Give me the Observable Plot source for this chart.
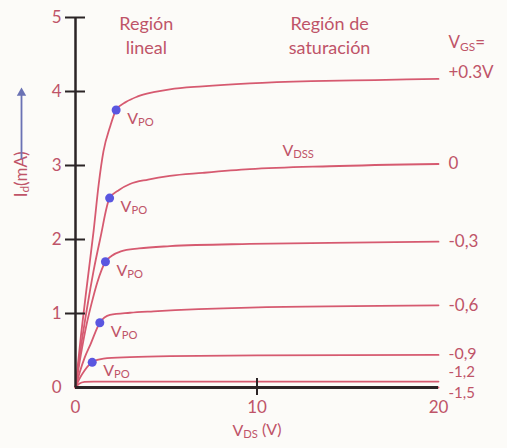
<!DOCTYPE html>
<html>
<head>
<meta charset="utf-8">
<script src="https://cdn.jsdelivr.net/npm/d3@7"></script>
<script src="https://cdn.jsdelivr.net/npm/@observablehq/plot@0.6"></script>
<style>
  html, body { margin: 0; padding: 0; background: #fcfbf8; }
</style>
</head>
<body>
<div id="chart"></div>
<script>
// ---------- DATA ----------
const xTicks = [0, 10, 20];
const yTicks = [0, 1, 2, 3, 4, 5];

const vgsLabels = ["+0.3V", "0", "-0,3", "-0,6", "-0,9", "-1,2", "-1,5"];

const vds_p03 = [0, 0.3, 0.64, 1.0, 1.28, 1.54, 1.9, 2.24, 2.8, 3.4, 4.3, 5.2, 7.0, 9.6, 13, 16.5, 20];
const id_p03  = [0, 0.7, 1.40, 2.12, 2.75, 3.19, 3.52, 3.75, 3.86, 3.93, 3.99, 4.03, 4.07, 4.11, 4.14, 4.155, 4.17];

const vds_0 = [0, 0.3, 0.6, 0.82, 0.99, 1.37, 1.88, 2.4, 3.0, 4.0, 5.2, 7.0, 9.6, 14, 20];
const id_0  = [0, 0.55, 1.02, 1.34, 1.57, 2.02, 2.56, 2.67, 2.75, 2.81, 2.86, 2.90, 2.95, 2.99, 3.02];

const vds_m03 = [0, 0.3, 0.6, 0.9, 1.2, 1.65, 2.0, 2.5, 3.5, 5.2, 9.6, 14, 20];
const id_m03  = [0, 0.45, 0.84, 1.15, 1.42, 1.70, 1.78, 1.84, 1.88, 1.91, 1.94, 1.955, 1.97];

const vds_m06 = [0, 0.25, 0.5, 0.82, 1.34, 1.9, 3.0, 4.3, 9.6, 20];
const id_m06  = [0, 0.22, 0.40, 0.58, 0.875, 0.98, 1.01, 1.03, 1.08, 1.11];

const vds_m09 = [0, 0.2, 0.5, 0.92, 1.54, 3.0, 5.2, 10, 20];
const id_m09  = [0, 0.11, 0.23, 0.34, 0.39, 0.41, 0.425, 0.435, 0.44];

const vds_m12 = [0, 0.2, 0.5, 1.0, 5, 10, 20];
const id_m12  = [0, 0.05, 0.075, 0.08, 0.08, 0.08, 0.08];

const vds_m15 = [0, 20];
const id_m15  = [0, 0];

// pinch-off (VPO) points
const vpoVds = [2.24, 1.88, 1.65, 1.34, 0.92];
const vpoId  = [3.75, 2.56, 1.70, 0.875, 0.34];

// ---------- BUILD ----------
const curveVds = [vds_p03, vds_0, vds_m03, vds_m06, vds_m09, vds_m12, vds_m15];
const curveId  = [id_p03, id_0, id_m03, id_m06, id_m09, id_m12, id_m15];
const lines = curveVds.flatMap((xs, k) => xs.map((v, i) => ({vds: v, id: curveId[k][i], vgs: vgsLabels[k]})));
const ends = curveVds.map((xs, k) => ({vds: xs[xs.length - 1], id: curveId[k][curveId[k].length - 1], label: vgsLabels[k]}));
const vpo = vpoVds.map((v, i) => ({vds: v, id: vpoId[i]}));

const curveColor = "#d65a70";
const textColor = "#bf5468";
const axisColor = "#2b2426";
const font = "Lato, 'Open Sans', sans-serif";
// label vertical nudges (in mA) so the right-hand labels sit like the original
const labelNudge = [0.08, 0, 0, 0, 0.02, 0.13, -0.075];
const labelSize = [17, 17, 17, 17, 16, 15, 15];

const plot = Plot.plot({
  width: 507,
  height: 448,
  marginLeft: 75,
  marginRight: 69,
  marginTop: 17,
  marginBottom: 61,
  style: {background: "#fcfbf8", color: textColor, fontFamily: font, fontSize: "17px"},
  x: {domain: [0, 20], axis: null},
  y: {domain: [0, 5], axis: null},
  marks: [
    // curves
    Plot.line(lines, {x: "vds", y: "id", z: "vgs", curve: "monotone-x", stroke: curveColor, strokeWidth: 1.8}),
    // axis lines
    Plot.ruleX([0], {y1: 0, y2: 5, stroke: axisColor, strokeWidth: 2.5}),
    Plot.ruleY([0], {x1: 0, x2: 20, stroke: axisColor, strokeWidth: 3}),
    // y ticks crossing the axis
    Plot.ruleY(yTicks.filter(d => d > 0), {y: d => d, x1: 0, x2: 0, insetLeft: -10, insetRight: -10, stroke: axisColor, strokeWidth: 2}),
    // x tick at 10
    Plot.ruleX(xTicks.filter(d => d > 0 && d < 20), {x: d => d, y1: 0, y2: 0, insetTop: -9, insetBottom: -8, stroke: axisColor, strokeWidth: 2}),
    // tick labels
    Plot.axisY({ticks: yTicks, tickSize: 0, tickPadding: 14, fontSize: 17, label: null, tickFormat: d => String(d), fill: textColor}),
    Plot.axisX({ticks: xTicks, tickSize: 0, tickPadding: 13, fontSize: 17, label: null, tickFormat: d => String(d), fill: textColor}),
    // VPO dots
    Plot.dot(vpo, {x: "vds", y: "id", r: 4.5, fill: "#5a56e0", stroke: "none"}),
    Plot.text(vpo, {x: "vds", y: "id", text: () => "V_{PO}", dx: 11, dy: 9, textAnchor: "start", fontSize: 16, fill: textColor}),
    // right-hand VGS labels
    ...ends.map((d, i) => Plot.text([d], {x: "vds", y: e => e.id + labelNudge[i], text: "label", dx: 10, textAnchor: "start", fontSize: labelSize[i], fill: textColor})),
    Plot.text(["V_{GS}="], {x: 20, y: 4.17, text: d => d, dx: 10, dy: -36, textAnchor: "start", fontSize: 17, fill: textColor}),
    // region annotations
    Plot.text(["Región\nlineal"], {x: 3.9, y: 5, text: d => d, dy: -4, lineAnchor: "top", lineHeight: 1.3, fontSize: 18, fill: textColor}),
    Plot.text(["Región de\nsaturación"], {x: 14.0, y: 5, text: d => d, dy: -4, lineAnchor: "top", lineHeight: 1.3, fontSize: 18, fill: textColor}),
    Plot.text(["V_{DSS}"], {x: 11.4, y: 3.02, text: d => d, dy: -13, textAnchor: "start", fontSize: 16, fill: textColor}),
    // axis titles
    Plot.text(["V_{DS} (V)"], {x: 10, frameAnchor: "bottom", text: d => d, dy: 48, fontSize: 16, fill: textColor}),
    Plot.text(["I_{d}(mA)"], {y: 2.57, frameAnchor: "left", text: d => d, dx: -54, rotate: -90, fontSize: 17, fill: textColor}),
    // arrow above the y title
    Plot.ruleX([0], {y1: 3.08, y2: 3.98, dx: -54, stroke: "#6a72b4", strokeWidth: 1.8}),
    Plot.dot([0], {x: d => d, y: 3.98, dx: -54, symbol: "triangle", r: 3.5, fill: "#6a72b4", stroke: "none"})
  ]
});

// render "_{...}" as subscripts
d3.select(plot).selectAll("text").each(function () {
  const el = this;
  if (el.querySelector("tspan")) return;
  const s = el.textContent;
  if (!s.includes("_{")) return;
  el.textContent = "";
  const re = /_\{(.*?)\}/g;
  let last = 0, m, shifted = false;
  while ((m = re.exec(s)) !== null) {
    if (m.index > last) {
      const t = d3.select(el).append("tspan").text(s.slice(last, m.index));
      if (shifted) { t.attr("dy", "-0.13em"); shifted = false; }
    }
    d3.select(el).append("tspan").attr("font-size", "0.7em").attr("dy", "0.18em").text(m[1]);
    shifted = true;
    last = re.lastIndex;
  }
  if (last < s.length) {
    const t = d3.select(el).append("tspan").text(s.slice(last));
    if (shifted) t.attr("dy", "-0.13em");
  }
});

document.getElementById("chart").appendChild(plot);
</script>
</body>
</html>
